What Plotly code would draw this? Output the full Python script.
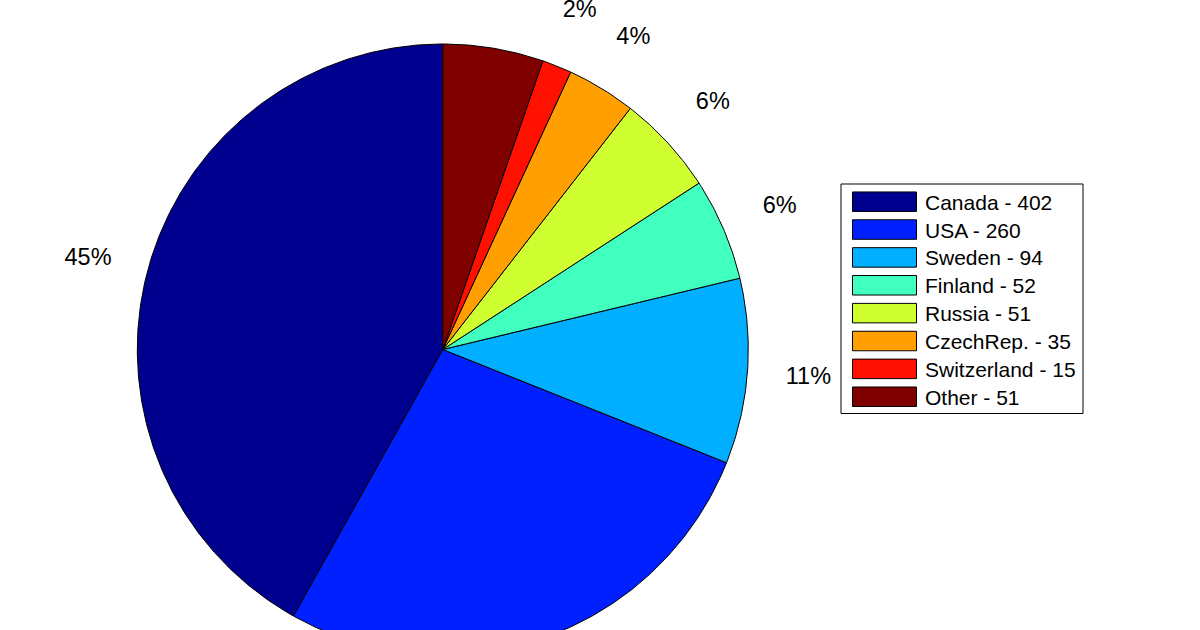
import numpy as np
import plotly.graph_objects as go

# ---- data ----
countries = ["Canada", "USA", "Sweden", "Finland", "Russia", "CzechRep.", "Switzerland", "Other"]
counts = [402, 260, 94, 52, 51, 35, 15, 51]
pct_labels = ["45%", "29%", "11%", "6%", "6%", "4%", "2%", "6%"]
colors = ["#00008F", "#0020FF", "#00AFFF", "#40FFBF", "#CFFF30", "#FF9F00", "#FF1000", "#800000"]

# ---- layout geometry (pixels of the 1200x630 canvas) ----
W, H = 1200, 630
CX, CY, R = 442.8, 349.5, 305.5          # pie centre / radius in px
LABEL_R = 1.2                              # label radius, in pie radii
LABEL_DY_PX = 2.0                          # small baseline nudge for text
FONT = "Arial, Liberation Sans, sans-serif"

x_range = [-CX / R, (W - CX) / R]
y_range = [-(H - CY) / R, CY / R]

total = float(sum(counts))
fracs = np.array(counts) / total
starts = np.concatenate([[0.0], np.cumsum(fracs)[:-1]])

fig = go.Figure()

# slices: counter-clockwise starting at the top (MATLAB pie style)
for name, f, s, c in zip(countries, fracs, starts, colors):
    n = max(int(f * 720), 4)
    th = 2 * np.pi * np.linspace(s, s + f, n)
    xs = np.concatenate([[0.0], -np.sin(th), [0.0]])
    ys = np.concatenate([[0.0], np.cos(th), [0.0]])
    fig.add_trace(go.Scatter(
        x=xs, y=ys, mode="lines", fill="toself", fillcolor=c,
        line=dict(color="black", width=1), name=name,
        hoverinfo="name", showlegend=False))

# percentage labels at 1.2 R, centred on mid-angle of each slice
mid = 2 * np.pi * (starts + fracs / 2)
lx = -LABEL_R * np.sin(mid)
ly = LABEL_R * np.cos(mid) - LABEL_DY_PX / R
# labels whose centre falls outside the cropped canvas are not shown in the reference
visible = (ly > y_range[0]) & (ly < y_range[1])
fig.add_trace(go.Scatter(
    x=lx[visible], y=ly[visible],
    mode="text", text=[t for t, v in zip(pct_labels, visible) if v],
    textposition="middle center",
    textfont=dict(family=FONT, size=23.5, color="black"),
    hoverinfo="skip", showlegend=False, cliponaxis=False))

# ---- hand-drawn MATLAB-style legend (paper coords from px) ----
def px(x):
    return x / W

def py(y):
    return 1 - y / H

shapes = [dict(type="rect", xref="paper", yref="paper",
               x0=px(841), x1=px(1083), y0=py(413.5), y1=py(184),
               line=dict(color="black", width=1), fillcolor="white", layer="above")]
annotations = []
row0, pitch, sw_h = 201.7, 27.86, 19.5
for i, (name, cnt, c) in enumerate(zip(countries, counts, colors)):
    yc = row0 + i * pitch
    shapes.append(dict(type="rect", xref="paper", yref="paper",
                       x0=px(852.5), x1=px(916.5), y0=py(yc + sw_h / 2), y1=py(yc - sw_h / 2),
                       line=dict(color="black", width=1), fillcolor=c, layer="above"))
    annotations.append(dict(xref="paper", yref="paper", x=px(924), y=py(yc + 0.5),
                            xanchor="left", yanchor="middle", showarrow=False,
                            borderpad=0, text=f"{name} - {cnt}",
                            font=dict(family=FONT, size=21, color="black")))

fig.update_layout(
    width=W, height=H, autosize=False,
    margin=dict(l=0, r=0, t=0, b=0, pad=0),
    paper_bgcolor="white", plot_bgcolor="white",
    xaxis=dict(range=x_range, visible=False, fixedrange=True),
    yaxis=dict(range=y_range, visible=False, fixedrange=True),
    shapes=shapes, annotations=annotations, showlegend=False,
)

fig.write_html(
    "out.html",
    config={"displayModeBar": False},
    post_script="document.body.style.margin='0';document.body.style.overflow='hidden';",
)
